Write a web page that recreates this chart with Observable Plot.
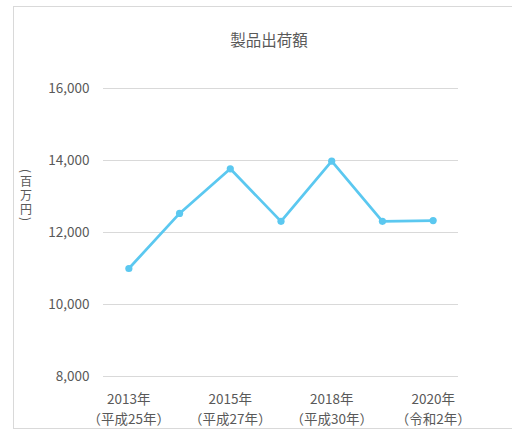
<!DOCTYPE html>
<html>
<head>
<meta charset="utf-8">
<script src="https://cdn.jsdelivr.net/npm/d3@7"></script>
<script src="https://cdn.jsdelivr.net/npm/@observablehq/plot@0.6"></script>
<style>
  html, body { margin: 0; padding: 0; background: #fff; }
  #chart { width: 512px; height: 430px; overflow: hidden; }
</style>
</head>
<body>
<div id="chart"></div>
<script>
const title = "製品出荷額";
const yLabel = "(百万円)";
const categories = ["2013年", "2014年", "2015年", "2016年", "2018年", "2019年", "2020年"];
const values = [11000, 12530, 13770, 12310, 13980, 12310, 12330];
const labelYears = ["2013年", "2015年", "2018年", "2020年"];
const labelEras = ["（平成25年）", "（平成27年）", "（平成30年）", "（令和2年）"];
const yTicks = [8000, 10000, 12000, 14000, 16000];

const data = categories.map((c, i) => ({ category: c, value: values[i] }));
const labels = labelYears.map((y, i) => ({ year: y, era: labelEras[i] }));

const font = "'Noto Sans CJK JP', 'Noto Sans', sans-serif";
const textColor = "#595959";
const lineColor = "#5bc8f0";

const plot = Plot.plot({
  width: 512,
  height: 430,
  marginTop: 88,
  marginBottom: 54,
  marginLeft: 103,
  marginRight: 54,
  style: { fontFamily: font, color: textColor, background: "transparent" },
  x: { type: "point", domain: categories, padding: 0.5, round: false, axis: null },
  y: { domain: [8000, 16000] },
  marks: [
    Plot.gridY(yTicks, { stroke: "#d9d9d9", strokeOpacity: 1, strokeWidth: 1 }),
    Plot.axisY(yTicks, {
      tickSize: 0, tickPadding: 14, tickFormat: d3.format(","),
      label: null, fontSize: 13.5, fill: textColor
    }),
    Plot.text(labels, { x: "year", text: "year", frameAnchor: "bottom", dy: 27, fontSize: 13.5, fill: textColor }),
    Plot.text(labels, { x: "year", text: "era", frameAnchor: "bottom", dy: 47, fontSize: 13.5, fill: textColor }),
    Plot.line(data, { x: "category", y: "value", stroke: lineColor, strokeWidth: 2.75 }),
    Plot.dot(data, { x: "category", y: "value", r: 3.6, fill: lineColor, stroke: "none" })
  ]
});

const svg = d3.select(plot);
svg.insert("rect", ":first-child")
  .attr("x", 13.5).attr("y", 6.5).attr("width", 540).attr("height", 422)
  .attr("fill", "#fff").attr("stroke", "#d9d9d9").attr("stroke-width", 1);
svg.append("text")
  .attr("x", 269).attr("y", 41).attr("dy", "0.35em")
  .attr("text-anchor", "middle")
  .attr("font-size", 15.5).attr("fill", textColor).attr("font-family", font)
  .text(title);

// vertical (tategaki) axis label
svg.append("text")
  .attr("x", 26).attr("y", 196)
  .attr("text-anchor", "middle")
  .style("writing-mode", "vertical-rl")
  .style("letter-spacing", "2px")
  .attr("font-size", 12).attr("fill", textColor).attr("font-family", font)
  .text(yLabel);

document.getElementById("chart").appendChild(plot);
</script>
</body>
</html>
